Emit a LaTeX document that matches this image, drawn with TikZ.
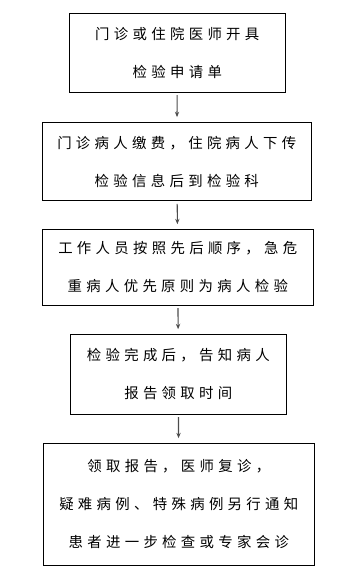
\documentclass[tikz,border=0pt]{standalone}
\usepackage{fontspec}
\newfontfamily\cjk{Noto Sans CJK SC}[LetterSpace=30]
\usetikzlibrary{arrows.meta}

\begin{document}
\begin{tikzpicture}[x=0.75pt,y=-0.75pt,
  box/.style={draw,line width=0.75pt,align=center,inner sep=0pt,
    font=\cjk\fontsize{10.8pt}{28.5pt}\selectfont},
  flow/.style={-{Stealth[length=4pt,width=3.2pt]},draw=black!70,line width=0.8pt,
    shorten <=2pt,shorten >=3.5pt}]
\useasboundingbox (0,0) rectangle (354,578);
\node[box,minimum width=162pt,minimum height=59pt] (apply) at (177.3,52.7)
  {门诊或住院医师开具\\检验申请单};
\node[box,minimum width=201.75pt,minimum height=58.8pt] (pay) at (176.8,161.5)
  {门诊病人缴费，住院病人下传\\检验信息后到检验科};
\node[box,minimum width=203.25pt,minimum height=56.8pt] (test) at (177.8,267.2)
  {工作人员按照先后顺序，急危\\重病人优先原则为病人检验};
\node[box,minimum width=162pt,minimum height=59.8pt] (notify) at (178.3,374.2)
  {检验完成后，告知病人\\报告领取时间};
\node[box,minimum width=203.25pt,minimum height=91.3pt] (review) at (178.8,504.2)
  {领取报告，医师复诊，\\疑难病例、特殊病例另行通知\\患者进一步检查或专家会诊};
\draw[flow] (apply) -- (pay);
\draw[flow] (pay) -- (test);
\draw[flow] (test) -- (notify);
\draw[flow] (notify) -- (review);
\end{tikzpicture}
\end{document}
